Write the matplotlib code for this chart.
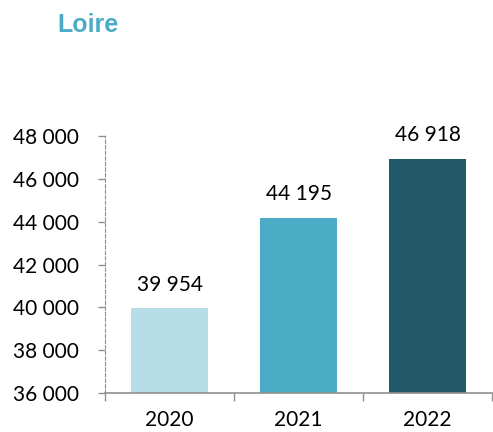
import matplotlib.pyplot as plt
from matplotlib.ticker import FuncFormatter, FixedLocator

years = ["2020", "2021", "2022"]
values = [39954, 44195, 46918]
colors = ["#B7DDE8", "#4BACC6", "#215968"]
y_ticks = [36000, 38000, 40000, 42000, 44000, 46000, 48000]


def fr_number(v, pos=None):
    return f"{int(v):,}".replace(",", " ")


fig = plt.figure(figsize=(4.93, 4.32), dpi=100)
ax = fig.add_axes([0.213, 0.09, 0.785, 0.595])

x = range(len(years))
ax.bar(x, values, width=0.6, color=colors, zorder=2)

for xi, v in zip(x, values):
    ax.text(xi, v + 650, fr_number(v), ha="center", va="bottom",
            fontsize=15, family="Lato", color="#000000")

ax.set_xlim(-0.5, 2.5)
ax.set_ylim(36000, 48000)
ax.set_yticks(y_ticks)
ax.yaxis.set_major_formatter(FuncFormatter(fr_number))

ax.set_xticks(list(x))
ax.set_xticklabels(years)
ax.xaxis.set_minor_locator(FixedLocator([-0.5, 0.5, 1.5, 2.5]))
ax.tick_params(axis="x", which="major", length=0, pad=12, labelsize=15)
ax.tick_params(axis="x", which="minor", length=6, color="#909090", width=1)
ax.tick_params(axis="y", length=5, color="#909090", width=1, labelsize=15, pad=14)
for lab in ax.get_xticklabels() + ax.get_yticklabels():
    lab.set_family("Lato")

for s in ["top", "right"]:
    ax.spines[s].set_visible(False)
ax.spines["left"].set_color("#909090")
ax.spines["left"].set_linestyle((0, (3, 2)))
ax.spines["bottom"].set_color("#909090")
ax.spines["bottom"].set_linewidth(1.2)

fig.text(0.116, 0.942, "Loire", fontsize=18, fontweight="bold",
         family="Liberation Sans", color="#4BACC6", va="center")

plt.savefig("out.png")
